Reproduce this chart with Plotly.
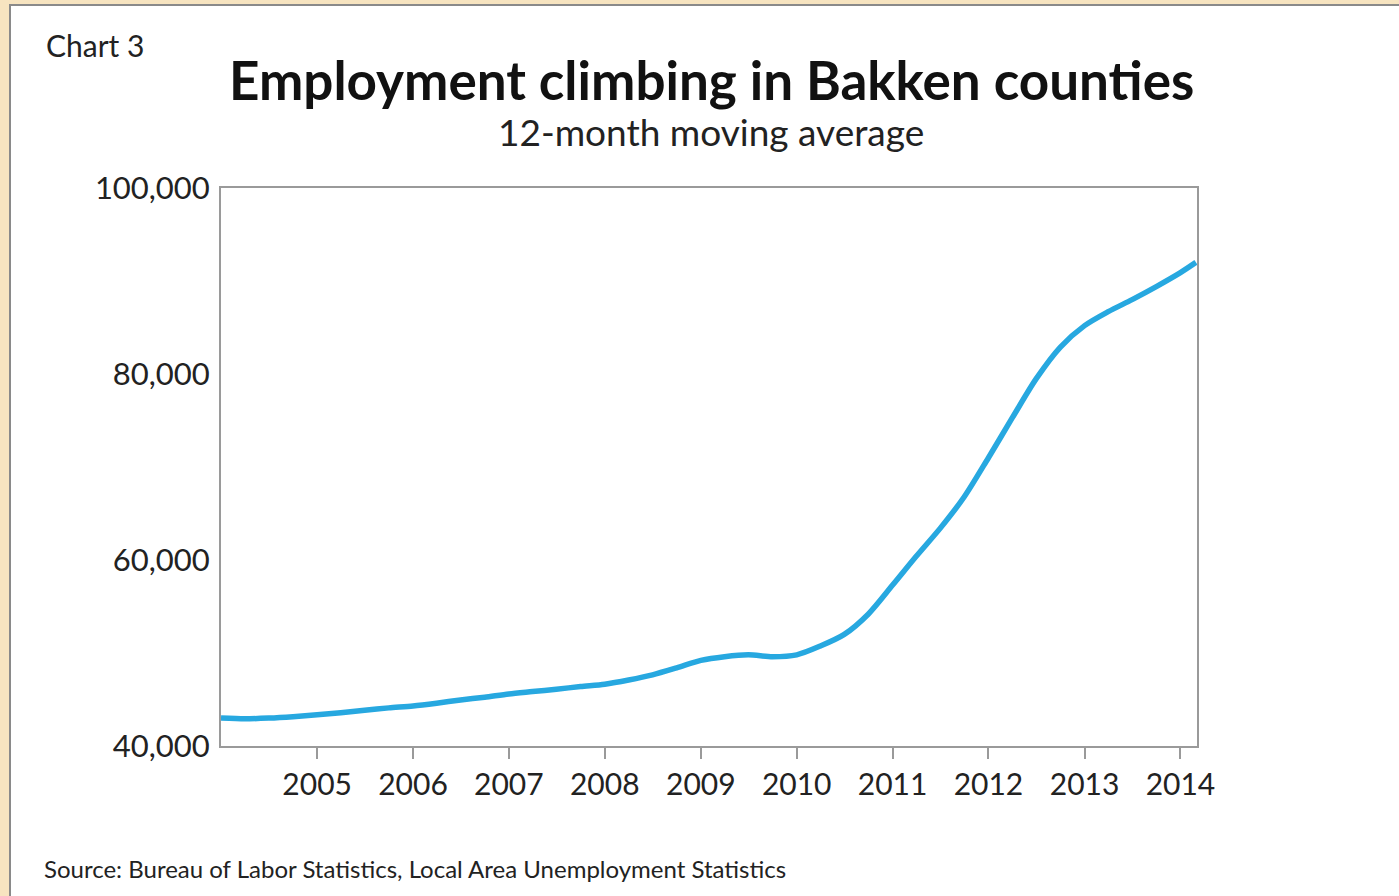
import plotly.graph_objects as go

dates = ["2004-01-01", "2004-04-01", "2004-07-01", "2004-10-01",
         "2005-01-01", "2005-04-01", "2005-07-01", "2005-10-01",
         "2006-01-01", "2006-04-01", "2006-07-01", "2006-10-01",
         "2007-01-01", "2007-04-01", "2007-07-01", "2007-10-01",
         "2008-01-01", "2008-04-01", "2008-07-01", "2008-10-01",
         "2009-01-01", "2009-04-01", "2009-07-01", "2009-10-01",
         "2010-01-01", "2010-04-01", "2010-07-01", "2010-10-01",
         "2011-01-01", "2011-04-01", "2011-07-01", "2011-10-01",
         "2012-01-01", "2012-04-01", "2012-07-01", "2012-10-01",
         "2013-01-01", "2013-04-01", "2013-07-01", "2013-10-01",
         "2014-01-01", "2014-03-01"]
employment = [43000, 42920, 43000, 43150,
              43350, 43580, 43850, 44100,
              44300, 44600, 44950, 45250,
              45600, 45850, 46100, 46400,
              46650, 47100, 47650, 48400,
              49200, 49600, 49800, 49600,
              49800, 50750, 52000, 54200,
              57300, 60400, 63400, 66800,
              71000, 75300, 79500, 82900,
              85200, 86700, 88000, 89400,
              90900, 92000]
year_ticks = ["2005-01-01", "2006-01-01", "2007-01-01", "2008-01-01", "2009-01-01",
              "2010-01-01", "2011-01-01", "2012-01-01", "2013-01-01", "2014-01-01"]
year_labels = ["2005", "2006", "2007", "2008", "2009", "2010", "2011", "2012", "2013", "2014"]
y_ticks = [40000, 60000, 80000, 100000]

W, H = 1399, 896
L, R, T, B = 221, 1197, 188, 746
FONT = "Lato"

def px(x):
    return (x - L) / (R - L)

def py(y):
    return (B - y) / (B - T)

fig = go.Figure()
fig.add_trace(go.Scatter(
    x=dates, y=employment, mode="lines",
    line=dict(color="#27a8e0", width=5.5, shape="spline", smoothing=0.8),
    hoverinfo="x+y", showlegend=False,
))

fig.update_layout(
    width=W, height=H,
    margin=dict(l=L, r=W - R, t=T, b=H - B),
    paper_bgcolor="#f7e4c0",
    plot_bgcolor="#eef1dc",
    font=dict(family=FONT, color="#222222"),
    shapes=[
        dict(type="rect", xref="paper", yref="paper",
             x0=px(10), x1=px(1405), y0=py(5), y1=py(905),
             fillcolor="white", line=dict(color="#8a8a8a", width=2), layer="below"),
    ],
    annotations=[
        dict(text="Chart 3", xref="paper", yref="paper", x=px(44), y=py(45),
             xanchor="left", yanchor="middle", showarrow=False,
             font=dict(size=30, color="#222222", family=FONT)),
        dict(text="<b>Employment climbing in Bakken counties</b>", xref="paper", yref="paper",
             x=px(711), y=py(79), xanchor="center", yanchor="middle", showarrow=False,
             font=dict(size=53, color="#111111", family=FONT)),
        dict(text="12-month moving average", xref="paper", yref="paper",
             x=px(711), y=py(131), xanchor="center", yanchor="middle", showarrow=False,
             font=dict(size=37, color="#222222", family=FONT)),
        dict(text="Source: Bureau of Labor Statistics, Local Area Unemployment Statistics",
             xref="paper", yref="paper", x=px(42), y=py(868),
             xanchor="left", yanchor="middle", showarrow=False,
             font=dict(size=24, color="#222222", family=FONT)),
    ],
)

fig.update_xaxes(
    type="date", range=["2004-01-01", "2014-03-05"],
    tickvals=year_ticks, ticktext=year_labels,
    ticks="outside", ticklen=11, tickwidth=2, tickcolor="#9a9a9a",
    tickfont=dict(size=30, color="#222222", family=FONT),
    showgrid=False, zeroline=False,
    showline=True, linecolor="#9a9a9a", linewidth=2, mirror=True,
)
fig.update_yaxes(
    range=[40000, 100000], tickvals=y_ticks, tickformat=",d",
    ticks="outside", ticklen=3, tickcolor="rgba(0,0,0,0)",
    tickfont=dict(size=31, color="#222222", family=FONT),
    showgrid=False, zeroline=False,
    showline=True, linecolor="#9a9a9a", linewidth=2, mirror=True,
)

fig.write_html("out.html")
